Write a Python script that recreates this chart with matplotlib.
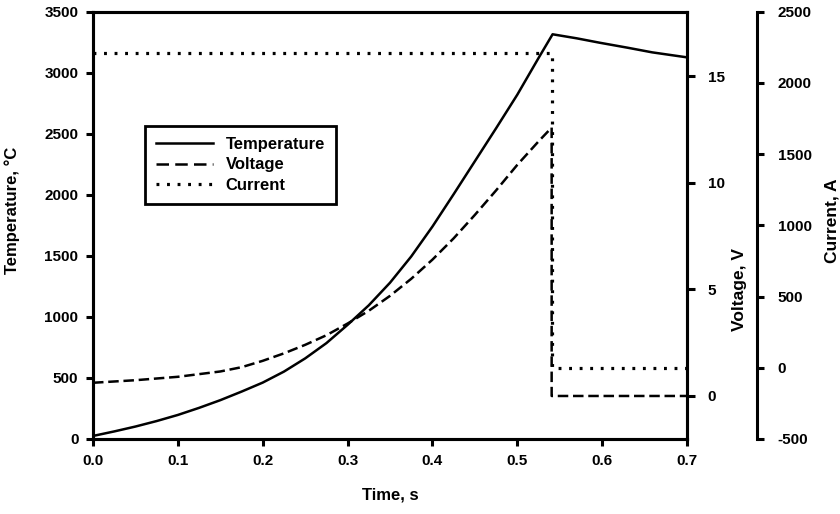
import matplotlib
matplotlib.use("Agg")
import matplotlib.pyplot as plt
from matplotlib.lines import Line2D

plt.rcParams['font.family'] = ['Liberation Sans', 'DejaVu Sans']
plt.rcParams['font.weight'] = 'bold'
plt.rcParams['axes.unicode_minus'] = False

# Temperature (°C) vs time (s)
temp_t = [0.0, 0.025, 0.05, 0.075, 0.1, 0.125, 0.15, 0.175, 0.2, 0.225, 0.25, 0.275,
          0.3, 0.325, 0.35, 0.375, 0.4, 0.425, 0.45, 0.475, 0.5, 0.525, 0.5416,
          0.57, 0.597, 0.63, 0.659, 0.7]
temp_v = [25, 62, 102, 147, 197, 255, 318, 388, 462, 552, 660, 785,
          935, 1095, 1280, 1495, 1740, 2005, 2275, 2545, 2820, 3120, 3315,
          3282, 3246, 3205, 3167, 3126]

# Voltage (V) vs time (s)
volt_t = [0.0, 0.05, 0.1, 0.15, 0.175, 0.2, 0.225, 0.25, 0.275, 0.3, 0.325, 0.35,
          0.375, 0.4, 0.425, 0.45, 0.475, 0.5, 0.525, 0.5405, 0.5405, 0.7]
volt_v = [0.62, 0.74, 0.9, 1.15, 1.35, 1.65, 2.0, 2.4, 2.85, 3.4, 4.0, 4.7,
          5.5, 6.4, 7.4, 8.5, 9.65, 10.85, 11.95, 12.6, 0.0, 0.0]

# Current (A) vs time (s)
curr_t = [0.0, 0.5405, 0.5405, 0.7]
curr_v = [2210, 2210, 0, 0]

x_ticks = [0.0, 0.1, 0.2, 0.3, 0.4, 0.5, 0.6, 0.7]
temp_ticks = [0, 500, 1000, 1500, 2000, 2500, 3000, 3500]
volt_ticks = [0, 5, 10, 15]
curr_ticks = [-500, 0, 500, 1000, 1500, 2000, 2500]

fig = plt.figure(figsize=(8.4, 5.14), dpi=100)
ax = fig.add_axes([93/840, 1-439/514, 594/840, 427.3/514])
ax2 = ax.twinx()
ax3 = ax.twinx()

lw = 1.8
dash = (0, (4.2, 1.9))
dots = (0, (0.9, 2.4))
ax.plot(temp_t, temp_v, color='black', lw=lw, solid_joinstyle='round')
ax2.plot(volt_t, volt_v, color='black', lw=lw, linestyle=dash)
ax3.plot(curr_t, curr_v, color='black', lw=2.3, linestyle=dots)

ax.set_xlim(0, 0.7)
ax.set_ylim(0, 3500)
ax2.set_ylim(-2.02, 18.04)
ax3.set_ylim(-500, 2500)

ax.set_xticks(x_ticks)
ax.set_xticklabels([f"{v:.1f}" for v in x_ticks])
ax.set_yticks(temp_ticks)
ax2.set_yticks(volt_ticks)
ax3.set_yticks(curr_ticks)

spw = 2.2
for a in (ax, ax2, ax3):
    for s in a.spines.values():
        s.set_linewidth(spw)
    a.tick_params(direction='out', length=5, width=spw, labelsize=11)
    for lab in a.get_xticklabels() + a.get_yticklabels():
        lab.set_fontweight('bold')
ax.tick_params(axis='y', pad=5.5)
ax.tick_params(axis='x', pad=6)
ax2.tick_params(axis='y', length=6, pad=9)
ax3.tick_params(axis='y', length=5, pad=10)

ax3.spines['right'].set_position(('axes', (757-93)/594))
for k in ('left', 'top', 'bottom'):
    ax3.spines[k].set_visible(False)

ax.set_xlabel('Time, s', fontsize=12, fontweight='bold', labelpad=14)
ax.set_ylabel('Temperature, °C', fontsize=12, fontweight='bold')
ax2.set_ylabel('Voltage, V', fontsize=12.5, fontweight='bold')
ax3.set_ylabel('Current, A', fontsize=12.5, fontweight='bold')
ax.yaxis.set_label_coords((20-93)/594, (439-210)/427.3)
ax2.yaxis.set_label_coords((732-93)/594, (439-290)/427.3)
ax3.yaxis.set_label_coords((824-93)/594, (439-221)/427.3)

handles = [
    Line2D([], [], color='black', lw=lw),
    Line2D([], [], color='black', lw=lw, linestyle=(0, (5, 2.5))),
    Line2D([], [], color='black', lw=2.3, linestyle=dots),
]
leg = ax.legend(handles, ['Temperature', 'Voltage', 'Current'],
                loc='upper left', bbox_to_anchor=((145-93)/594, (439-126)/427.3),
                fancybox=False, framealpha=1, edgecolor='black',
                prop={'weight': 'bold', 'size': 12}, handlelength=3.4,
                borderpad=0.65, labelspacing=0.33, handletextpad=0.8, borderaxespad=0)
leg.get_frame().set_linewidth(2.0)
leg.set_zorder(10)

fig.savefig('out.png', dpi=100)
